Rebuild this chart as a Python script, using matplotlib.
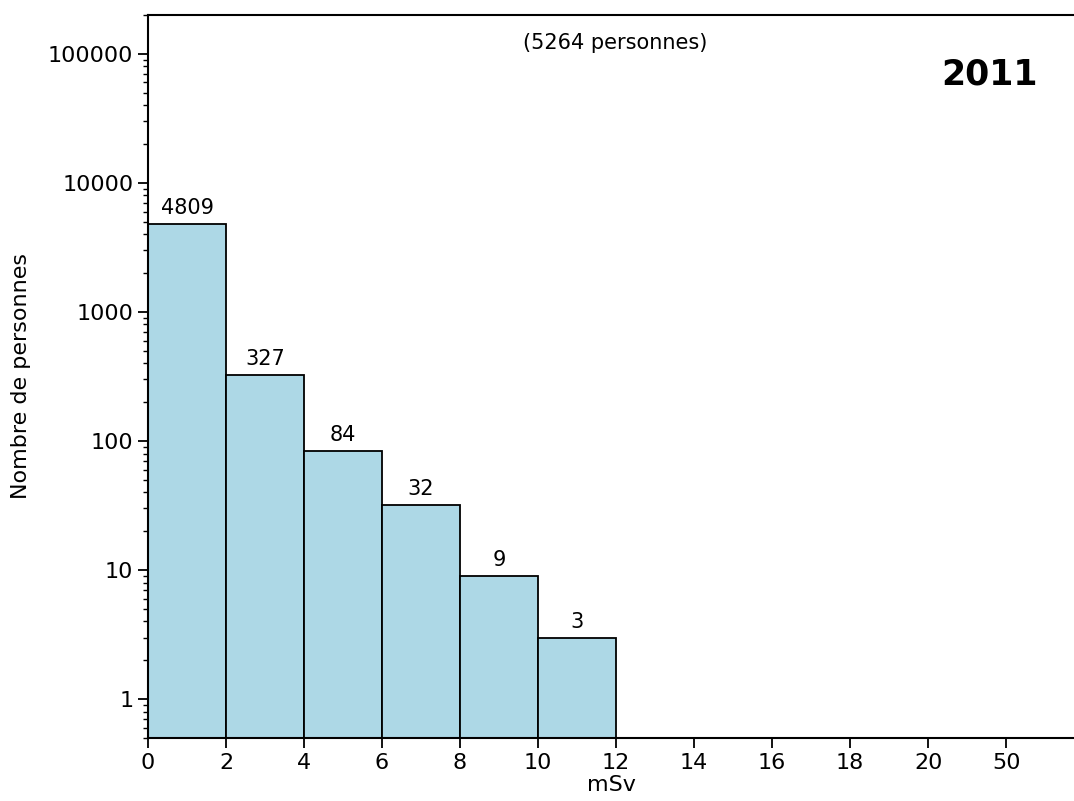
import matplotlib
matplotlib.use("Agg")
import matplotlib.pyplot as plt
from matplotlib.ticker import FixedLocator, FuncFormatter, LogLocator, NullFormatter

# Distribution des doses (mSv) - 2011
bornes = [0, 2, 4, 6, 8, 10]
effectifs = [4809, 327, 84, 32, 9, 3]
largeur = 2
total = 5264
annee = "2011"

pos_ticks = [0, 2, 4, 6, 8, 10, 12, 14, 16, 18, 20, 22]
labels_ticks = ["0", "2", "4", "6", "8", "10", "12", "14", "16", "18", "20", "50"]

fig = plt.figure(figsize=(10.74, 8.01), dpi=100)
ax = fig.add_axes([0.1378, 0.0787, 0.8622, 0.9026])

barres = ax.bar(bornes, effectifs, width=largeur, align="edge",
                color="lightblue", edgecolor="black", linewidth=1.3)

# valeur au-dessus de chaque barre
for x, n in zip(bornes, effectifs):
    ax.annotate(str(n), (x + largeur / 2, n), xytext=(0, 4), textcoords="offset points",
                ha="center", va="bottom", fontsize=15)

ax.set_yscale("log")
ax.set_ylim(0.5, 200000)
ax.set_xlim(0, 23.74)

ax.yaxis.set_major_locator(FixedLocator([1, 10, 100, 1000, 10000, 100000]))
ax.yaxis.set_major_formatter(FuncFormatter(lambda v, p: f"{v:.0f}"))
ax.yaxis.set_minor_locator(LogLocator(base=10, subs=range(2, 10), numticks=20))
ax.yaxis.set_minor_formatter(NullFormatter())

ax.set_xticks(pos_ticks)
ax.set_xticklabels(labels_ticks)
ax.tick_params(axis="both", which="major", labelsize=16, length=7, width=1.3)
ax.tick_params(axis="y", which="minor", length=3.5, width=1.0)

for s in ["left", "top", "bottom"]:
    ax.spines[s].set_linewidth(1.5)
ax.spines["right"].set_visible(False)

ax.set_xlabel("mSv", fontsize=16, labelpad=2)
ax.set_ylabel("Nombre de personnes", fontsize=16, labelpad=12)

ax.text(0.505, 0.961, f"({total} personnes)", transform=ax.transAxes,
        ha="center", va="center", fontsize=15)
ax.text(0.909, 0.917, annee, transform=ax.transAxes,
        ha="center", va="center", fontsize=25, fontweight="bold")

fig.savefig("out.png", dpi=100)
